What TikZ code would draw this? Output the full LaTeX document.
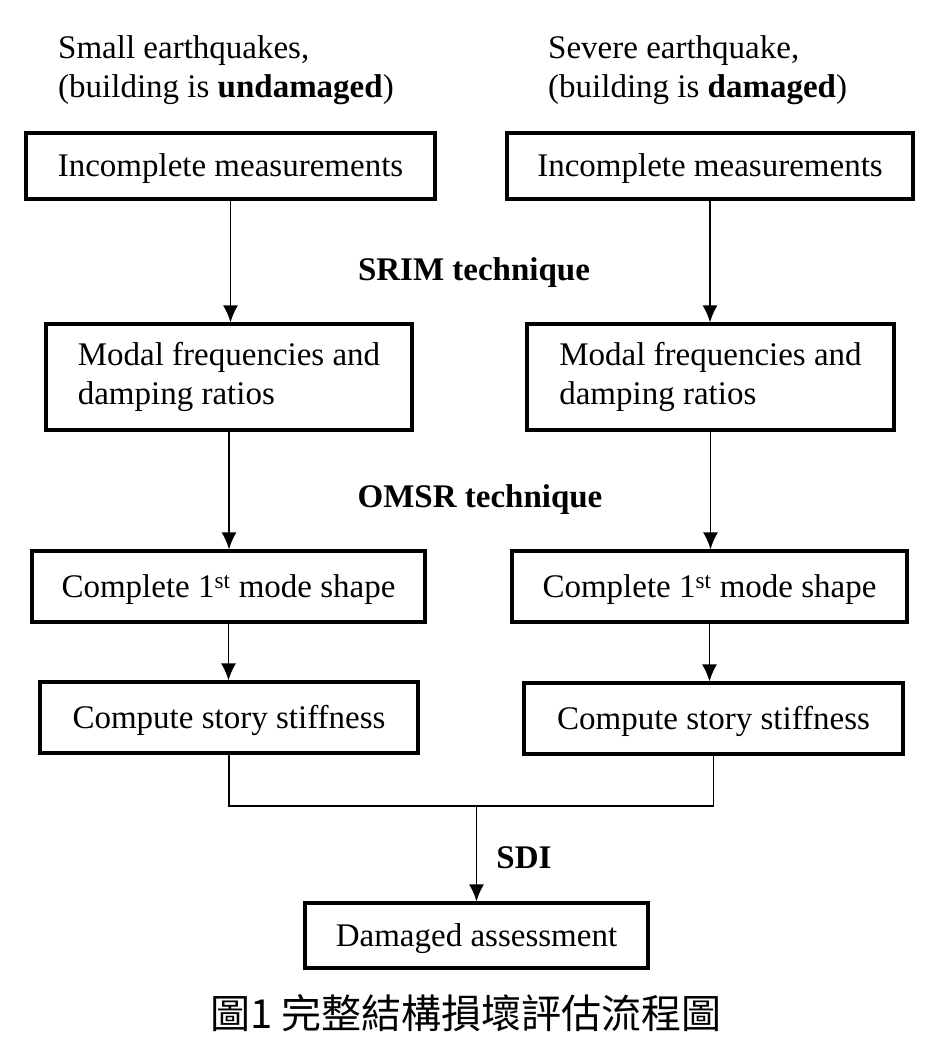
\documentclass[tikz,border=0pt]{standalone}
\usepackage{fontspec}
\setmainfont{Liberation Serif}
\newfontfamily\cjkfont{Noto Sans CJK TC}
\usetikzlibrary{arrows.meta}

\begin{document}
\begin{tikzpicture}[x=1pt,y=-1pt,>={Latex[length=17pt,width=15pt]},
	every node/.style={font=\fontsize{33}{39}\selectfont},
	oneline/.style={text height=29pt,text depth=7.3pt},
	stepbox/.style={draw,line width=3.2pt,inner sep=0pt,align=left},
	link/.style={line width=1.7pt},
	joinline/.style={line width=1.2pt}]
	\useasboundingbox (0,0) rectangle (924,1043);
	% headings
	\node[anchor=north west,align=left,inner sep=0pt] (headL) at (58,35) {Small earthquakes,\\(building is \textbf{undamaged})};
	\node[anchor=north west,align=left,inner sep=0pt] (headR) at (548,35) {Severe earthquake,\\(building is \textbf{damaged})};
	% left column
	\node[stepbox,oneline,minimum width=409,minimum height=66] (measL) at (230.5,166) {Incomplete measurements};
	\node[stepbox,minimum width=366,minimum height=106] (modalL) at (229,377) {Modal frequencies and\\damping ratios};
	\node[stepbox,oneline,minimum width=393,minimum height=71] (shapeL) at (228.5,586.5) {Complete 1\textsuperscript{st} mode shape};
	\node[stepbox,oneline,minimum width=378,minimum height=71] (stiffL) at (229,717.5) {Compute story stiffness};
	% right column
	\node[stepbox,oneline,minimum width=406,minimum height=66] (measR) at (710,166) {Incomplete measurements};
	\node[stepbox,minimum width=367,minimum height=106] (modalR) at (710.5,377) {Modal frequencies and\\damping ratios};
	\node[stepbox,oneline,minimum width=395,minimum height=71] (shapeR) at (709.5,586.5) {Complete 1\textsuperscript{st} mode shape};
	\node[stepbox,oneline,minimum width=379,minimum height=71] (stiffR) at (713.5,718.5) {Compute story stiffness};
	% result
	\node[stepbox,oneline,minimum width=343,minimum height=65] (assess) at (476.5,935.5) {Damaged assessment};
	\node[oneline] (srim) at (474,270) {\textbf{SRIM technique}};
	\node[oneline] (omsr) at (480,497) {\textbf{OMSR technique}};
	\node[oneline] (sdi) at (524,858) {\textbf{SDI}};
	\node[text height=35pt,text depth=5pt,inner sep=0pt] (title) at (466,1013) {\fontsize{40}{44}\selectfont\cjkfont 圖1 完整結構損壞評估流程圖};
	% connectors
	\draw[link,->] (measL.south)--(measL.south|-modalL.north);
	\draw[link,->] (modalL.south)--(modalL.south|-shapeL.north);
	\draw[link,->] (shapeL.south)--(shapeL.south|-stiffL.north);
	\draw[link,->] (measR.south)--(measR.south|-modalR.north);
	\draw[link,->] (modalR.south)--(modalR.south|-shapeR.north);
	\draw[link,->] (shapeR.south)--(shapeR.south|-stiffR.north);
	\coordinate (join) at (assess.north|-0,806);
	\draw[joinline] (stiffL.south)|-(join)-|(stiffR.south);
	\draw[link,->] (join)--(assess);
\end{tikzpicture}
\end{document}
